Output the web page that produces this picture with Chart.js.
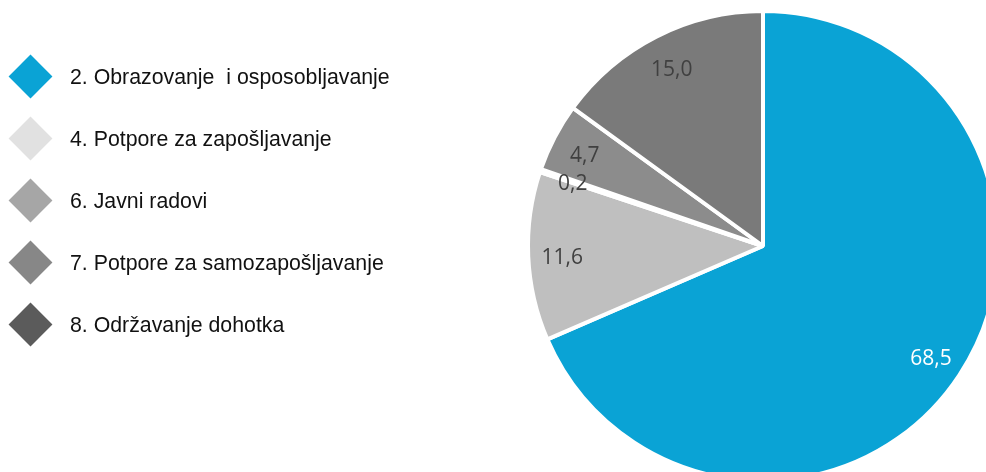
<!DOCTYPE html>
<html>
<head>
<meta charset="utf-8">
<script src="https://cdn.jsdelivr.net/npm/chart.js@4.4.0/dist/chart.umd.min.js"></script>
<style>
  html, body { margin:0; padding:0; width:986px; height:472px; overflow:hidden; background:#fff; }
  #wrap { position:relative; width:986px; height:472px; overflow:hidden; }
  #canvasPie { position:absolute; left:0; top:0; }
  #legend { position:absolute; left:0; top:0; font-family:"Liberation Sans", Arial, sans-serif; font-size:21.3px; color:#111; }
  .item { position:absolute; left:0; height:44px; white-space:pre; }
  .item .mk { position:absolute; left:15px; top:6px; width:31px; height:31px; transform:rotate(45deg); }
  .item .tx { position:absolute; left:70px; top:9px; line-height:26px; }
</style>
</head>
<body>
<div id="wrap">
  <canvas id="canvasPie" width="1100" height="520"></canvas>
  <div id="legend"></div>
</div>
<script>
//데이터
var categories = ["2. Obrazovanje  i osposobljavanje", "4. Potpore za zapošljavanje", "6. Javni radovi", "7. Potpore za samozapošljavanje", "8. Održavanje dohotka"];
var shares = [68.5, 11.6, 0.2, 4.7, 15.0];

//색상 (조각 / 범례)
var sliceColors = ["#0aa3d5", "#bfbfbf", "#a6a6a6", "#8c8c8c", "#7a7a7a"];
var legendColors = ["#0aa3d5", "#e1e1e1", "#a6a6a6", "#878787", "#5b5b5b"];
var labelColors = ["#ffffff", "#404040", "#404040", "#404040", "#404040"];

//범례 그리기 (html)
function drawLegend(){
  var box = document.getElementById("legend");
  for(var i=0;i<categories.length;i++){
    var it = document.createElement("div");
    it.className = "item";
    it.style.top = (55 + i*62) + "px";
    var mk = document.createElement("div");
    mk.className = "mk";
    mk.style.background = legendColors[i];
    var tx = document.createElement("div");
    tx.className = "tx";
    tx.textContent = categories[i];
    it.appendChild(mk);
    it.appendChild(tx);
    box.appendChild(it);
  }
}

//값 라벨 플러그인
var valueLabels = {
  id: "valueLabels",
  afterDatasetsDraw: function(chart){
    var ctx = chart.ctx;
    var arcs = chart.getDatasetMeta(0).data;
    ctx.save();
    ctx.font = "21px 'Open Sans', sans-serif";
    ctx.textAlign = "center";
    ctx.textBaseline = "middle";
    for(var i=0;i<arcs.length;i++){
      var a = arcs[i];
      var mid = (a.startAngle + a.endAngle) / 2;
      var d = a.outerRadius * 0.855;
      ctx.fillStyle = labelColors[i];
      //글자 세로 위치 약간 보정
      ctx.fillText(shares[i].toFixed(1).replace(".", ","), a.x + Math.cos(mid)*d, a.y + Math.sin(mid)*d + 3);
    }
    ctx.restore();
  }
};

function initBody(){
  drawLegend();
  var ctx = document.getElementById("canvasPie").getContext("2d");
  window.myPie = new Chart(ctx, {
    type: "pie",
    data: {
      labels: categories,
      datasets: [{
        data: shares,
        backgroundColor: sliceColors,
        borderColor: "#ffffff",
        borderWidth: 4
      }]
    },
    options: {
      responsive: false,
      animation: false,
      radius: 235,
      layout: { padding: { left: 523, top: 6, right: 97, bottom: 34 } },
      plugins: {
        legend: { display: false },
        tooltip: { enabled: false }
      }
    },
    plugins: [valueLabels]
  });
}
initBody();
</script>
</body>
</html>
